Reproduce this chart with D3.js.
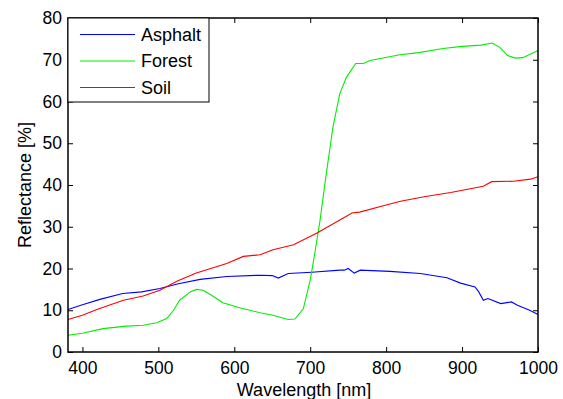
<!DOCTYPE html>
<html>
<head>
<meta charset="UTF-8">
<title>Reflectance</title>
<script src="https://d3js.org/d3.v7.min.js"></script>
<style>
  body { margin: 0; background: #fff; }
  svg text { font-family: "Liberation Sans", Arial, sans-serif; fill: #000; }
</style>
</head>
<body>
<svg width="563" height="399"></svg>
<script>
const xTicks = [400, 500, 600, 700, 800, 900, 1000];
const yTicks = [0, 10, 20, 30, 40, 50, 60, 70, 80];
const seriesNames = ['Asphalt', 'Forest', 'Soil'];
const seriesColors = ['#0000ff', '#00ee00', '#ff0000'];

const asphaltWl = [381, 400, 423, 453, 478, 502, 525, 555, 590, 634, 650, 658, 666, 671, 702, 739, 745, 750, 758, 766, 805, 845, 880, 898, 917, 922, 928, 934, 951, 965, 973, 989, 1000];
const asphaltR  = [10.2, 11.3, 12.6, 14.0, 14.4, 15.2, 16.3, 17.4, 18.1, 18.4, 18.3, 17.7, 18.4, 18.8, 19.1, 19.6, 19.6, 20.0, 18.9, 19.6, 19.3, 18.8, 17.8, 16.5, 15.6, 14.4, 12.4, 12.8, 11.6, 12.0, 11.2, 10.0, 9.0];

const forestWl = [381, 400, 427, 458, 480, 498, 511, 520, 528, 542, 550, 559, 570, 585, 607, 634, 651, 671, 680, 691, 700, 706, 713, 720, 730, 739, 748, 760, 770, 779, 818, 843, 875, 900, 925, 940, 950, 960, 970, 980, 1000];
const forestR  = [4.0, 4.5, 5.6, 6.2, 6.4, 7.0, 8.0, 10.0, 12.4, 14.4, 15.0, 14.8, 13.6, 11.8, 10.6, 9.4, 8.8, 7.8, 7.9, 10.4, 17.2, 23.6, 31.6, 41.2, 53.9, 61.9, 65.9, 69.1, 69.1, 69.8, 71.2, 71.7, 72.7, 73.2, 73.5, 74.0, 72.9, 71.0, 70.4, 70.5, 72.2];

const soilWl = [381, 400, 419, 454, 480, 502, 525, 550, 590, 612, 634, 651, 678, 709, 739, 755, 765, 800, 819, 850, 885, 928, 939, 968, 990, 1000];
const soilR  = [7.8, 8.8, 10.2, 12.4, 13.4, 14.8, 17.0, 18.9, 21.2, 22.9, 23.3, 24.5, 25.7, 28.5, 31.6, 33.3, 33.5, 35.2, 36.1, 37.2, 38.2, 39.7, 40.8, 40.9, 41.4, 42.0];

const seriesWl = [asphaltWl, forestWl, soilWl];
const seriesR = [asphaltR, forestR, soilR];

const pLeft = 68, pTop = 18, pRight = 538, pBottom = 352;
const fontSize = '17.5px';
const svg = d3.select('svg');

const x = d3.scaleLinear().domain([381, 1000]).range([pLeft, pRight]);
const y = d3.scaleLinear().domain([0, 80]).range([pBottom, pTop]);

const line = d3.line().x(d => x(d[0])).y(d => y(d[1]));

const plot = svg.append('g');
seriesNames.forEach((name, i) => {
  const pts = seriesWl[i].map((w, j) => [w, seriesR[i][j]]);
  plot.append('path')
    .attr('d', line(pts))
    .attr('fill', 'none')
    .attr('stroke', seriesColors[i])
    .attr('stroke-width', 1.1);
});

// axes, MATLAB style ticks pointing in
const tickLen = 5;
const xAxisB = svg.append('g').attr('transform', `translate(0,${pBottom})`)
  .call(d3.axisBottom(x).tickValues(xTicks).tickSize(-tickLen).tickPadding(10).tickFormat(d3.format('d')));
const xAxisT = svg.append('g').attr('transform', `translate(0,${pTop})`)
  .call(d3.axisTop(x).tickValues(xTicks).tickSize(-tickLen).tickFormat(''));
const yAxisL = svg.append('g').attr('transform', `translate(${pLeft},0)`)
  .call(d3.axisLeft(y).tickValues(yTicks).tickSize(-tickLen).tickPadding(6));
const yAxisR = svg.append('g').attr('transform', `translate(${pRight},0)`)
  .call(d3.axisRight(y).tickValues(yTicks).tickSize(-tickLen).tickFormat(''));

[xAxisB, xAxisT, yAxisL, yAxisR].forEach(a => {
  a.select('.domain').remove();
  a.selectAll('.tick line').attr('stroke', '#000');
  a.selectAll('.tick text').style('font-size', fontSize);
});

svg.append('rect')
  .attr('x', pLeft).attr('y', pTop)
  .attr('width', pRight - pLeft).attr('height', pBottom - pTop)
  .attr('fill', 'none').attr('stroke', '#000').attr('stroke-width', 1.5);

// labels
svg.append('text')
  .attr('x', (pLeft + pRight) / 2 + 1).attr('y', 396)
  .attr('text-anchor', 'middle').style('font-size', '18px')
  .text('Wavelength [nm]');
svg.append('text')
  .attr('transform', `translate(31,${(pTop + pBottom) / 2}) rotate(-90)`)
  .attr('text-anchor', 'middle').style('font-size', '18px')
  .text('Reflectance [%]');

// legend
const legend = svg.append('g');
legend.append('rect')
  .attr('x', pLeft).attr('y', pTop).attr('width', 141).attr('height', 84)
  .attr('fill', '#fff').attr('stroke', '#000').attr('stroke-width', 1);
seriesNames.forEach((name, i) => {
  const ly = 34.5 + i * 26.5;
  legend.append('line')
    .attr('x1', 80).attr('x2', 135).attr('y1', ly).attr('y2', ly)
    .attr('stroke', seriesColors[i]).attr('stroke-width', 1);
  legend.append('text')
    .attr('x', 141).attr('y', ly + 6.3)
    .style('font-size', '18px')
    .text(name);
});
</script>
</body>
</html>
